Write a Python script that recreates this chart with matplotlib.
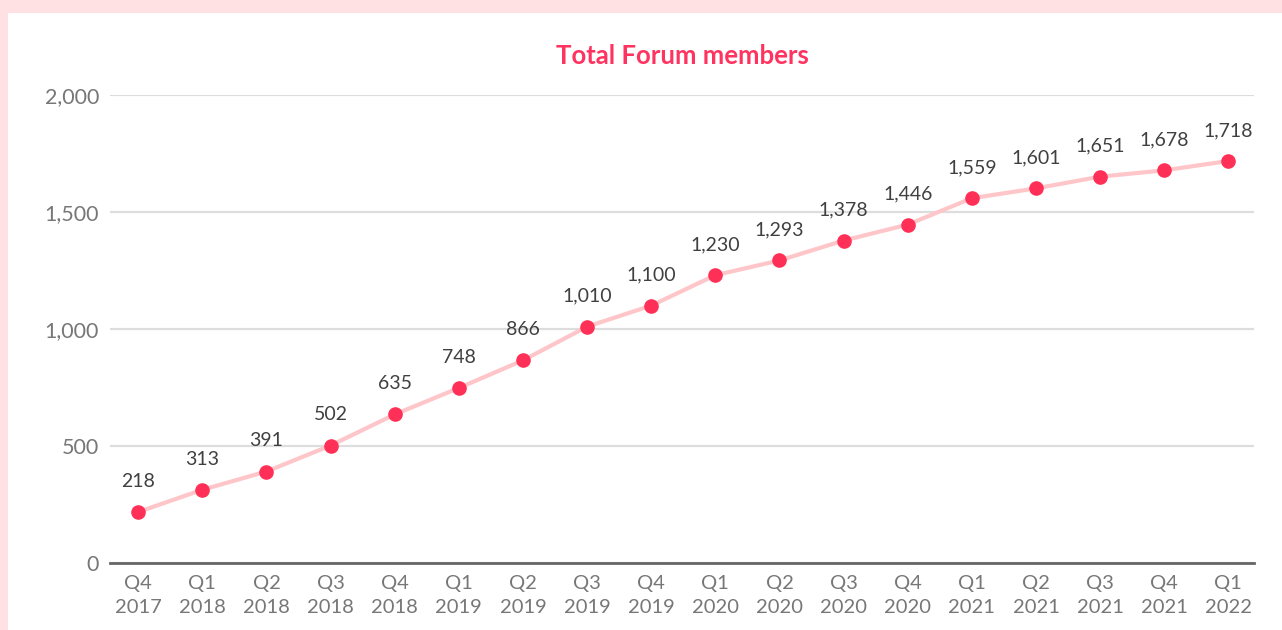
import matplotlib.pyplot as plt

# data
trimestres = ["Q4\n2017", "Q1\n2018", "Q2\n2018", "Q3\n2018", "Q4\n2018",
              "Q1\n2019", "Q2\n2019", "Q3\n2019", "Q4\n2019",
              "Q1\n2020", "Q2\n2020", "Q3\n2020", "Q4\n2020",
              "Q1\n2021", "Q2\n2021", "Q3\n2021", "Q4\n2021", "Q1\n2022"]
membros = [218, 313, 391, 502, 635, 748, 866, 1010, 1100,
           1230, 1293, 1378, 1446, 1559, 1601, 1651, 1678, 1718]
y_ticks = [0, 500, 1000, 1500, 2000]

plt.rcParams['font.family'] = ['Lato', 'DejaVu Sans']

fig = plt.figure(figsize=(12.82, 6.30), dpi=100, facecolor='#ffe1e3')
# white card over the pink border
fig.patches.append(plt.Rectangle((8 / 1282, 0), 1, 1 - 13 / 630,
                                 transform=fig.transFigure, facecolor='white',
                                 edgecolor='none', zorder=-10))

ax = fig.add_axes([110 / 1282, 1 - 563 / 630, (1254 - 110) / 1282, (563 - 95) / 630])
ax.set_facecolor('none')

x = list(range(len(membros)))
ax.plot(x, membros, color='#ffc6c9', linewidth=3, zorder=2, clip_on=False)
ax.plot(x, membros, 'o', color='#ff3057', markersize=9.5, zorder=3, clip_on=False)

for xi, v in zip(x, membros):
    ax.annotate(f"{v:,}", (xi, v), xytext=(0, 22), textcoords='offset points',
                ha='center', va='center', fontsize=14, color='#404040')

ax.set_xlim(-0.44, 17.4)
ax.set_ylim(0, 2000)
ax.set_xticks(x)
ax.set_xticklabels(trimestres, fontsize=14.5, color='#777777', linespacing=1.45)
ax.set_yticks(y_ticks)
ax.set_yticklabels([f"{t:,}" for t in y_ticks], fontsize=15.5, color='#777777')
ax.tick_params(axis='both', length=0)
ax.tick_params(axis='x', pad=9)
ax.tick_params(axis='y', pad=8)

ax.grid(axis='y', color='#dddddd', linewidth=1.6)
ax.set_axisbelow(True)
for lado in ['top', 'right', 'left']:
    ax.spines[lado].set_visible(False)
ax.spines['bottom'].set_color('#666666')
ax.spines['bottom'].set_linewidth(2)

fig.text(682 / 1282, 1 - 56 / 630, "Total Forum members", ha='center', va='center',
         fontsize=18.5, fontweight='bold', color='#ff3360')

fig.savefig('out.png', dpi=100, facecolor=fig.get_facecolor())
